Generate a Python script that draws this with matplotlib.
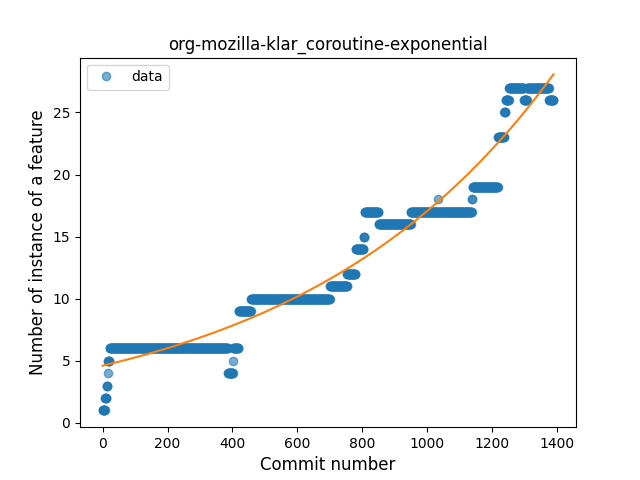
import numpy as np
import matplotlib
matplotlib.use("Agg")
import matplotlib.pyplot as plt

# runs of constant feature count, in commit order (start commit, value)
run_starts = [0, 8, 13, 16, 17, 22, 386, 402, 403, 419, 457, 700, 753, 779,
              804, 807, 850, 949, 1034, 1035, 1137, 1139, 1217, 1237, 1241,
              1251, 1297, 1307, 1374]
run_values = [1, 2, 3, 4, 5, 6, 4, 5, 6, 9, 10, 11, 12, 14,
              15, 17, 16, 17, 18, 17, 18, 19, 23, 25, 26,
              27, 26, 27, 26]
n_commits = 1389

# exponential fit y = a * exp(b * x) + c (parameters)
fit_a = 4.93
fit_b = 0.0012615
fit_c = -0.33

run_lengths = np.diff(run_starts + [n_commits])
commits = np.arange(n_commits)
features = np.repeat(run_values, run_lengths)
fit = fit_a * np.exp(fit_b * commits) + fit_c

fig, ax = plt.subplots(figsize=(6.4, 4.8), dpi=100)
ax.plot(commits, features, 'o', alpha=0.6, label='data')
ax.plot(commits, fit, '-')
ax.set_title('org-mozilla-klar_coroutine-exponential')
ax.set_xlabel('Commit number', fontsize=12)
ax.set_ylabel('Number of instance of a feature', fontsize=12)
ax.legend(loc='upper left')
fig.savefig('out.png')
